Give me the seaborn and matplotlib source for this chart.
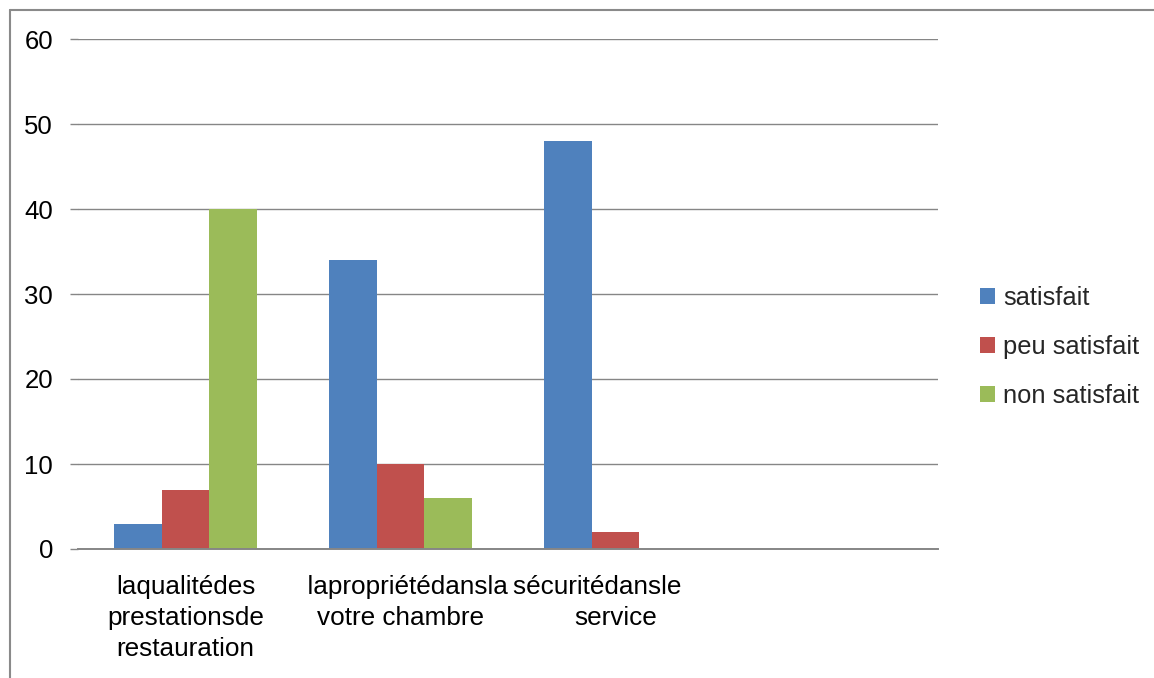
import matplotlib
matplotlib.use("Agg")
import matplotlib.pyplot as plt
import pandas as pd
import seaborn as sns
from matplotlib.lines import Line2D
from matplotlib.ticker import FixedLocator, MultipleLocator

# Survey categories (label lines padded so long first lines sit side by side)
categories = [
    "laqualitédes\nprestationsde\nrestauration",
    "  lapropriétédansla\nvotre chambre",
    "sécuritédansle     \nservice",
    "",
]
series = ["satisfait", "peu satisfait", "non satisfait"]
satisfait = [3, 34, 48]
peu_satisfait = [7, 10, 2]
non_satisfait = [40, 6, 0]
colors = ["#4F81BD", "#C0504D", "#9BBB59"]

rows = []
for name, values in zip(series, [satisfait, peu_satisfait, non_satisfait]):
    for cat, v in zip(categories[:3], values):
        rows.append({"categorie": cat, "reponse": name, "valeur": v})
df = pd.DataFrame(rows)

sns.set_style("white")
plt.rcParams["font.family"] = ["Liberation Sans", "DejaVu Sans"]

W, H = 1154, 678
fig = plt.figure(figsize=(W / 100, H / 100), dpi=100)
ax = fig.add_axes([78 / W, (H - 549) / H, (938 - 78) / W, (549 - 39) / H])

sns.barplot(
    data=df, x="categorie", y="valeur", hue="reponse",
    order=categories, hue_order=series, palette=colors,
    width=2 / 3, errorbar=None, saturation=1, linewidth=0, ax=ax,
)

grid_color = "#868686"
ax.set_ylim(0, 60)
ax.set_xlim(-0.5, 3.5)
ax.yaxis.set_major_locator(MultipleLocator(10))
ax.yaxis.grid(True, color=grid_color, lw=1.0)
ax.set_axisbelow(True)
ax.set_xlabel("")
ax.set_ylabel("")

for side in ["top", "right", "left"]:
    ax.spines[side].set_visible(False)
ax.spines["bottom"].set_color(grid_color)
ax.spines["bottom"].set_linewidth(1.4)

# Category labels centered, tick marks at category boundaries
ax.xaxis.set_minor_locator(FixedLocator([-0.5, 0.5, 1.5, 2.5, 3.5]))
ax.tick_params(axis="x", which="major", length=0, pad=19, labelsize=18.8, labelcolor="#000000")
ax.tick_params(axis="x", which="minor", length=6, width=1.4, color=grid_color, direction="out")
ax.tick_params(axis="y", length=6, width=1.0, color=grid_color, direction="out", pad=12,
               labelsize=18.5, labelcolor="#000000", left=True)
ax.set_xticks(range(len(categories)))
ax.set_xticklabels(categories, multialignment="center", linespacing=1.36)

handles, labels = ax.get_legend_handles_labels()
if ax.get_legend() is not None:
    ax.get_legend().remove()
fig.legend(
    handles, labels, loc="center left", bbox_to_anchor=(980 / W, (H - 347) / H),
    frameon=False, fontsize=18.4, handlelength=0.6, handleheight=0.6,
    handletextpad=0.3, labelspacing=0.98, borderpad=0, borderaxespad=0,
)

# Chart area outline
fig.add_artist(Line2D([9.5 / W, 9.5 / W], [0, (H - 10) / H], color="#8A8A8A", lw=1.5))
fig.add_artist(Line2D([9.5 / W, 1], [(H - 10) / H, (H - 10) / H], color="#8A8A8A", lw=1.5))

fig.savefig("out.png", dpi=100, facecolor="white")
